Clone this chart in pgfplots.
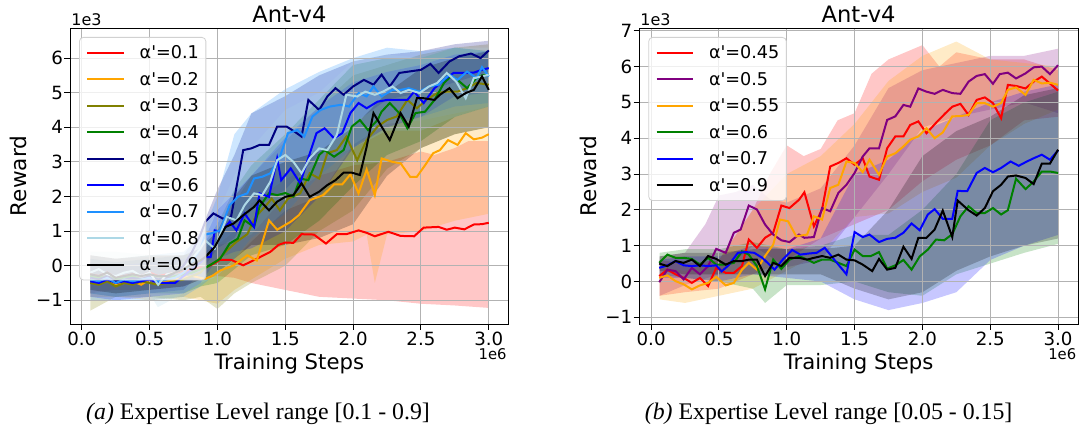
\documentclass[border=0pt]{standalone}
\usepackage{fontspec}
\setmainfont{DejaVu Sans}
\newfontfamily\capfont{Liberation Serif}
\usepackage{pgfplots}
\pgfplotsset{compat=1.18}

\definecolor{cOrange}{HTML}{FFA500}
\definecolor{cOlive}{HTML}{808000}
\definecolor{cGreen}{HTML}{008000}
\definecolor{cNavy}{HTML}{000080}
\definecolor{cBlue}{HTML}{0000FF}
\definecolor{cDodger}{HTML}{1E90FF}
\definecolor{cLight}{HTML}{ADD8E6}
\definecolor{cPurple}{HTML}{800080}

\pgfplotsset{
  antax/.style={
    scale only axis, width=219.35pt, height=148pt,
    xmin=-0.087, xmax=3.147,
    xtick={0,0.5,1,1.5,2,2.5,3},
    xticklabels={0.0,0.5,1.0,1.5,2.0,2.5,3.0},
    tick pos=left, tick align=outside, major tick length=2.85pt,
    grid=major, grid style={black!30, line width=0.45pt},
    axis line style={black, line width=0.5pt},
    tick style={black, line width=0.5pt},
    ticklabel style={font=\fontsize{9.1pt}{10pt}\selectfont},
    xticklabel style={anchor=north, inner sep=0pt},
    yticklabel style={anchor=east, inner sep=0pt},
    xticklabel shift=0.8pt, yticklabel shift=0.5pt,
    set layers,
    legend cell align=left,
    legend image code/.code={\draw[##1] (0pt,0pt) -- (18.35pt,0pt);},
    legend style={at={(0,1)}, anchor=north west, xshift=4.5pt, yshift=-4.35pt,
      draw=black!18, fill=white, fill opacity=0.8, text opacity=1,
      rounded corners=2pt, inner xsep=3.5pt, inner ysep=2pt,
      row sep=1.78pt, column sep=7.3pt,
      font=\fontsize{8.8pt}{10pt}\selectfont,
      nodes={inner sep=0pt, text height=8.8pt, text depth=2.65pt}},
  },
  band/.style={draw=none, fill=#1, fill opacity=0.22, forget plot, on layer=axis background},
  ln/.style={#1, line width=1pt},
}

\begin{document}
\begin{tikzpicture}

% ---------------- (a) ----------------
\begin{axis}[antax, at={(35pt,51.35pt)}, anchor=south west,
  ymin=-1.694, ymax=6.861, ytick={-1,0,1,2,3,4,5,6},
  yticklabels={−1,0,1,2,3,4,5,6}]

% bands: upper edge left to right, lower edge right to left
\addplot[band=red] coordinates {
 (0.0625,0.3)(0.25,0.2)(0.5,0.25)(0.75,0.3)(0.875,0.35)(1.0,0.6)(1.125,0.7)(1.25,0.9)(1.5,2.0)(1.75,2.6)(2.0,2.9)(2.25,3.0)(2.5,3.3)(2.6,3.2)(2.75,3.4)(2.85,3.6)(3.0,3.6)
 (3.0,-1.22)(2.75,-1.15)(2.5,-1.1)(2.25,-1.0)(2.0,-0.95)(1.75,-0.9)(1.5,-0.7)(1.25,-0.5)(1.125,-0.35)(1.0,-0.3)(0.875,-0.4)(0.75,-0.6)(0.5,-0.7)(0.25,-0.7)(0.0625,-0.8)};
\addplot[band=cOrange] coordinates {
 (0.0625,0.1)(0.25,0.0)(0.5,0.0)(0.75,0.1)(0.875,0.2)(1.0,0.6)(1.125,1.0)(1.25,1.8)(1.5,2.5)(1.75,3.0)(2.0,3.4)(2.25,3.9)(2.5,3.9)(2.75,4.3)(3.0,4.6)
 (3.0,1.5)(2.75,1.3)(2.5,1.0)(2.25,0.9)(2.16,-0.5)(2.1,0.9)(2.0,0.7)(1.75,0.6)(1.5,0.2)(1.25,-0.4)(1.125,-0.7)(1.0,-1.1)(0.875,-1.0)(0.75,-0.9)(0.5,-1.0)(0.25,-0.9)(0.0625,-0.9)};
\addplot[band=cOlive] coordinates {
 (0.0625,0.3)(0.25,0.2)(0.5,0.3)(0.75,0.3)(0.875,0.4)(1.0,0.8)(1.125,1.8)(1.25,2.6)(1.5,3.6)(1.75,4.6)(2.0,5.5)(2.25,5.8)(2.5,6.1)(2.75,6.3)(3.0,6.4)
 (3.0,4.0)(2.75,3.8)(2.5,3.4)(2.25,2.8)(2.0,1.6)(1.75,1.0)(1.5,0.0)(1.25,-0.5)(1.125,-0.8)(1.0,-1.25)(0.875,-0.9)(0.75,-1.0)(0.5,-0.9)(0.25,-0.9)(0.0625,-1.3)};
\addplot[band=cGreen] coordinates {
 (0.0625,0.2)(0.25,0.1)(0.5,0.2)(0.75,0.3)(0.875,0.5)(1.0,1.2)(1.125,2.2)(1.25,2.9)(1.5,3.8)(1.75,4.8)(2.0,5.8)(2.25,6.0)(2.5,6.0)(2.75,6.3)(3.0,6.2)
 (3.0,4.6)(2.75,4.3)(2.5,3.6)(2.25,3.2)(2.0,2.3)(1.75,1.3)(1.5,0.6)(1.25,0.3)(1.125,-0.1)(1.0,-0.5)(0.875,-0.6)(0.75,-0.8)(0.5,-0.8)(0.25,-0.9)(0.0625,-0.8)};
\addplot[band=cNavy] coordinates {
 (0.0625,0.2)(0.25,0.1)(0.5,0.2)(0.75,0.3)(0.875,1.0)(1.0,2.2)(1.125,3.2)(1.25,4.4)(1.5,4.9)(1.75,5.5)(2.0,5.9)(2.25,6.1)(2.5,6.2)(2.75,6.4)(3.0,6.5)
 (3.0,5.6)(2.75,5.3)(2.5,5.0)(2.25,4.8)(2.0,4.1)(1.75,3.2)(1.5,2.2)(1.25,1.6)(1.125,0.8)(1.0,0.5)(0.875,-0.2)(0.75,-0.7)(0.5,-0.8)(0.25,-0.9)(0.0625,-0.8)};
\addplot[band=cBlue] coordinates {
 (0.0625,0.1)(0.25,0.0)(0.5,0.1)(0.75,0.2)(0.875,0.5)(1.0,1.6)(1.125,2.1)(1.25,2.6)(1.5,3.7)(1.75,4.6)(2.0,5.3)(2.25,5.6)(2.5,5.8)(2.75,6.1)(3.0,6.2)
 (3.0,5.0)(2.75,4.9)(2.5,4.3)(2.25,4.0)(2.0,3.4)(1.75,2.0)(1.5,1.0)(1.25,0.5)(1.125,0.4)(1.0,0.2)(0.875,-0.5)(0.75,-0.8)(0.5,-0.9)(0.25,-1.0)(0.0625,-0.9)};
\addplot[band=cDodger] coordinates {
 (0.0625,0.3)(0.25,0.2)(0.5,0.3)(0.75,0.4)(0.875,0.8)(1.0,2.0)(1.125,3.8)(1.25,4.4)(1.5,5.1)(1.75,5.6)(2.0,6.0)(2.25,6.3)(2.5,6.2)(2.75,6.3)(3.0,6.2)
 (3.0,4.7)(2.75,4.6)(2.5,4.3)(2.25,4.2)(2.0,3.4)(1.75,2.6)(1.5,1.5)(1.25,0.8)(1.125,0.2)(1.0,-0.2)(0.875,-0.6)(0.75,-0.9)(0.5,-1.0)(0.25,-1.0)(0.0625,-1.0)};
\addplot[band=cLight] coordinates {
 (0.0625,0.4)(0.25,0.4)(0.5,0.3)(0.75,0.4)(0.875,0.9)(1.0,1.5)(1.125,2.6)(1.25,3.4)(1.5,4.5)(1.75,5.0)(2.0,5.9)(2.25,6.1)(2.5,6.0)(2.75,6.3)(3.0,6.3)
 (3.0,4.6)(2.75,4.4)(2.5,4.2)(2.25,4.1)(2.0,3.5)(1.75,2.0)(1.5,1.6)(1.25,0.7)(1.125,0.2)(1.0,-0.3)(0.875,-0.5)(0.75,-0.8)(0.56,-1.2)(0.5,-0.8)(0.25,-0.9)(0.0625,-0.8)};
\addplot[band=black] coordinates {
 (0.0625,0.3)(0.25,0.2)(0.5,0.3)(0.75,0.3)(0.875,0.5)(1.0,1.0)(1.125,2.0)(1.25,2.6)(1.5,3.0)(1.75,3.3)(2.0,4.0)(2.25,5.0)(2.5,5.7)(2.75,6.0)(3.0,6.2)
 (3.0,4.0)(2.75,3.8)(2.5,3.4)(2.25,2.6)(2.0,1.2)(1.75,0.8)(1.5,0.6)(1.25,0.6)(1.125,0.2)(1.0,-0.2)(0.875,-0.4)(0.75,-0.6)(0.5,-0.7)(0.25,-0.8)(0.0625,-0.7)};

% mean curves
\addplot[ln=red] coordinates {
 (0.0625,-0.25)(0.125,-0.3)(0.1875,-0.2)(0.25,-0.35)(0.3125,-0.3)(0.375,-0.25)(0.4375,-0.3)(0.5,-0.2)(0.5625,-0.3)(0.625,-0.25)(0.6875,-0.2)(0.75,-0.15)(0.8125,-0.1)(0.875,-0.05)
 (0.91,-0.06)(0.97,0.05)(1.02,0.17)(1.1,0.17)(1.19,0.01)(1.29,0.2)(1.39,0.4)(1.45,0.6)(1.5,0.67)(1.56,0.66)(1.62,0.91)(1.71,0.9)(1.8,0.64)(1.88,0.91)(1.95,0.91)(2.04,1.02)(2.1,0.95)(2.16,0.85)(2.26,0.98)(2.35,0.86)(2.45,0.85)(2.52,1.1)(2.63,1.12)(2.69,1.04)(2.75,1.1)(2.82,1.05)(2.89,1.19)(2.95,1.2)(3.0,1.24)};
\addlegendentry{α\textquotesingle=0.1}
\addplot[ln=cOrange] coordinates {
 (0.0625,-0.45)(0.125,-0.5)(0.1875,-0.4)(0.25,-0.55)(0.3125,-0.5)(0.375,-0.45)(0.4375,-0.55)(0.5,-0.4)(0.5625,-0.5)(0.625,-0.45)(0.6875,-0.4)(0.75,-0.35)(0.8125,-0.3)(0.875,-0.35)
 (0.91,-0.38)(0.96,-0.3)(1.02,-0.14)(1.12,0.01)(1.22,0.3)(1.29,0.15)(1.38,1.31)(1.44,1.04)(1.54,1.27)(1.6,1.46)(1.68,1.89)(1.78,2.04)(1.86,2.35)(1.92,2.35)(1.98,2.64)(2.04,2.09)(2.1,2.78)(2.16,2.04)(2.21,3.1)(2.29,3.0)(2.35,2.96)(2.42,2.57)(2.47,2.57)(2.53,2.9)(2.59,3.25)(2.64,3.34)(2.7,3.63)(2.77,3.49)(2.83,3.83)(2.89,3.65)(2.95,3.7)(3.0,3.8)};
\addlegendentry{α\textquotesingle=0.2}
\addplot[ln=cOlive] coordinates {
 (0.0625,-0.5)(0.125,-0.55)(0.1875,-0.45)(0.25,-0.6)(0.3125,-0.5)(0.375,-0.55)(0.4375,-0.45)(0.5,-0.5)(0.5625,-0.55)(0.625,-0.5)(0.6875,-0.45)(0.75,-0.4)(0.8125,-0.3)(0.875,-0.2)
 (0.91,-0.06)(1.0,0.15)(1.07,0.44)(1.14,0.69)(1.22,0.91)(1.28,1.41)(1.35,1.7)(1.4,1.94)(1.46,1.6)(1.52,1.94)(1.61,2.09)(1.68,2.67)(1.75,2.52)(1.81,3.25)(1.88,3.34)(1.95,3.73)(2.03,3.05)(2.1,3.63)(2.18,4.02)(2.25,4.21)(2.32,4.31)(2.4,4.79)(2.47,4.55)(2.54,4.79)(2.62,4.99)(2.69,5.03)(2.77,5.03)(2.84,5.13)(2.91,5.28)(3.0,5.23)};
\addlegendentry{α\textquotesingle=0.3}
\addplot[ln=cGreen] coordinates {
 (0.0625,-0.3)(0.125,-0.35)(0.1875,-0.3)(0.25,-0.4)(0.3125,-0.35)(0.375,-0.3)(0.4375,-0.4)(0.5,-0.35)(0.5625,-0.3)(0.625,-0.35)(0.6875,-0.3)(0.75,-0.25)(0.8125,-0.2)(0.875,-0.1)
 (0.91,-0.06)(0.96,0.05)(1.02,0.2)(1.09,0.64)(1.15,0.78)(1.2,1.31)(1.27,1.12)(1.31,1.7)(1.38,2.09)(1.44,2.04)(1.5,2.1)(1.56,2.0)(1.61,2.52)(1.67,2.47)(1.75,3.2)(1.79,3.34)(1.86,3.15)(1.93,3.34)(1.99,4.02)(2.05,4.21)(2.11,3.92)(2.18,4.21)(2.21,4.45)(2.27,4.7)(2.34,4.41)(2.4,3.97)(2.46,4.41)(2.53,4.45)(2.6,4.79)(2.67,5.28)(2.72,5.47)(2.77,5.37)(2.84,5.13)(2.91,5.42)(2.95,5.5)(3.0,5.52)};
\addlegendentry{α\textquotesingle=0.4}
\addplot[ln=cNavy] coordinates {
 (0.0625,-0.35)(0.125,-0.4)(0.1875,-0.3)(0.25,-0.45)(0.3125,-0.4)(0.375,-0.35)(0.4375,-0.4)(0.5,-0.3)(0.5625,-0.4)(0.625,-0.35)(0.6875,-0.2)(0.75,0.0)(0.8125,0.4)(0.875,0.9)
 (0.91,1.27)(0.97,1.51)(1.04,1.36)(1.1,1.41)(1.19,3.34)(1.25,3.39)(1.31,3.49)(1.38,3.49)(1.44,4.02)(1.51,4.02)(1.57,3.87)(1.62,3.73)(1.67,4.79)(1.75,4.5)(1.81,4.89)(1.87,5.13)(1.93,4.94)(2.0,5.18)(2.08,5.37)(2.15,5.23)(2.21,5.52)(2.27,5.18)(2.34,5.57)(2.41,5.61)(2.5,5.66)(2.57,5.83)(2.63,5.57)(2.71,5.9)(2.78,6.05)(2.87,6.13)(2.94,6.0)(3.0,6.22)};
\addlegendentry{α\textquotesingle=0.5}
\addplot[ln=cBlue] coordinates {
 (0.0625,-0.45)(0.125,-0.5)(0.1875,-0.4)(0.25,-0.5)(0.3125,-0.45)(0.375,-0.5)(0.4375,-0.45)(0.5,-0.4)(0.5625,-0.5)(0.625,-0.5)(0.6875,-0.5)(0.75,-0.3)(0.8125,-0.1)(0.875,0.1)
 (0.91,0.25)(0.95,0.25)(0.98,1.02)(1.03,0.98)(1.09,1.27)(1.14,1.02)(1.2,1.51)(1.27,1.12)(1.31,2.09)(1.38,1.99)(1.44,3.1)(1.47,2.47)(1.54,2.81)(1.61,2.38)(1.66,3.0)(1.73,3.83)(1.79,3.97)(1.86,3.68)(1.92,3.83)(1.98,4.41)(2.04,4.7)(2.1,4.55)(2.18,4.74)(2.25,4.79)(2.32,4.79)(2.4,4.79)(2.45,5.03)(2.52,4.7)(2.6,5.13)(2.67,5.37)(2.74,5.57)(2.82,5.57)(2.89,5.58)(2.95,5.66)(3.0,5.71)};
\addlegendentry{α\textquotesingle=0.6}
\addplot[ln=cDodger] coordinates {
 (0.0625,-0.4)(0.125,-0.45)(0.1875,-0.35)(0.25,-0.5)(0.3125,-0.4)(0.375,-0.45)(0.4375,-0.4)(0.5,-0.35)(0.5625,-0.45)(0.625,-0.4)(0.6875,-0.35)(0.75,-0.2)(0.8125,0.1)(0.875,0.5)
 (0.91,0.9)(0.95,0.93)(1.02,1.02)(1.09,1.75)(1.15,1.99)(1.22,2.09)(1.27,2.52)(1.33,2.57)(1.39,2.67)(1.46,3.15)(1.52,3.83)(1.59,3.92)(1.64,3.73)(1.7,4.31)(1.76,4.5)(1.83,4.6)(1.91,4.65)(1.97,4.6)(2.04,4.99)(2.1,4.89)(2.15,5.18)(2.21,4.89)(2.29,5.08)(2.35,5.08)(2.41,5.13)(2.49,5.03)(2.56,5.18)(2.63,5.23)(2.71,5.52)(2.77,5.37)(2.84,5.61)(2.91,5.42)(2.95,5.74)(3.0,5.47)};
\addlegendentry{α\textquotesingle=0.7}
\addplot[ln=cLight] coordinates {
 (0.0625,-0.2)(0.125,-0.1)(0.1875,-0.25)(0.25,-0.3)(0.3125,-0.2)(0.375,-0.15)(0.4375,-0.3)(0.5,-0.2)(0.5625,-0.55)(0.625,-0.25)(0.6875,-0.2)(0.75,-0.1)(0.8125,0.2)(0.875,0.5)
 (0.91,0.73)(0.98,0.49)(1.07,1.41)(1.14,1.31)(1.2,1.75)(1.27,2.09)(1.33,2.04)(1.39,2.43)(1.44,3.05)(1.5,3.2)(1.56,3.0)(1.62,2.67)(1.68,3.1)(1.75,3.39)(1.81,3.34)(1.88,3.78)(1.95,4.94)(2.03,4.89)(2.09,5.03)(2.16,4.94)(2.22,5.03)(2.29,5.18)(2.35,4.99)(2.41,5.08)(2.49,4.99)(2.56,5.18)(2.62,5.28)(2.69,5.57)(2.76,5.32)(2.83,4.84)(2.89,5.42)(2.95,5.47)(3.0,5.52)};
\addlegendentry{α\textquotesingle=0.8}
\addplot[ln=black] coordinates {
 (0.0625,-0.25)(0.125,-0.3)(0.1875,-0.2)(0.25,-0.35)(0.3125,-0.3)(0.375,-0.25)(0.4375,-0.3)(0.5,-0.25)(0.5625,-0.3)(0.625,-0.3)(0.6875,-0.2)(0.75,-0.1)(0.8125,0.05)(0.875,0.15)
 (0.91,0.25)(0.98,0.54)(1.06,1.12)(1.12,1.22)(1.19,1.46)(1.27,1.7)(1.31,1.89)(1.38,1.6)(1.44,1.85)(1.5,1.99)(1.56,2.04)(1.62,2.38)(1.68,1.99)(1.75,2.14)(1.81,2.33)(1.87,2.47)(1.93,2.69)(1.99,2.69)(2.05,2.62)(2.1,3.44)(2.15,4.41)(2.21,4.02)(2.27,3.63)(2.35,4.41)(2.41,4.02)(2.47,4.84)(2.52,4.84)(2.6,4.79)(2.64,4.94)(2.71,5.13)(2.77,4.84)(2.83,4.99)(2.89,5.08)(2.95,5.47)(3.0,5.08)};
\addlegendentry{α\textquotesingle=0.9}
\end{axis}

% ---------------- (b) ----------------
\begin{axis}[antax, at={(319.65pt,51.35pt)}, anchor=south west,
  ymin=-1.196, ymax=7.07, ytick={-1,0,1,2,3,4,5,6,7},
  yticklabels={−1,0,1,2,3,4,5,6,7}]

\addplot[band=red] coordinates {
 (0.0625,0.6)(0.25,0.5)(0.5,0.6)(0.75,2.0)(0.875,3.0)(1.0,3.8)(1.125,3.5)(1.25,3.7)(1.375,4.5)(1.5,4.7)(1.625,5.8)(1.75,6.2)(2.0,6.6)(2.125,6.0)(2.25,6.4)(2.5,6.2)(2.75,6.2)(3.0,5.9)
 (3.0,4.6)(2.75,4.5)(2.5,3.8)(2.25,3.4)(2.0,2.8)(1.75,2.0)(1.5,1.6)(1.25,1.2)(1.0,0.6)(0.75,0.2)(0.5,-0.2)(0.25,-0.3)(0.0625,-0.4)};
\addplot[band=cPurple] coordinates {
 (0.0625,0.7)(0.25,0.8)(0.4,1.6)(0.5,2.4)(0.625,2.5)(0.75,2.7)(0.875,2.3)(1.0,2.2)(1.25,2.6)(1.5,3.8)(1.75,5.4)(2.0,5.9)(2.25,6.1)(2.5,6.3)(2.75,6.3)(3.0,6.5)
 (3.0,4.7)(2.75,5.0)(2.5,4.8)(2.25,4.6)(2.0,4.3)(1.75,3.0)(1.5,1.8)(1.25,0.6)(1.0,0.4)(0.75,1.0)(0.5,0.2)(0.25,-0.1)(0.0625,-0.4)};
\addplot[band=cOrange] coordinates {
 (0.0625,0.4)(0.25,0.3)(0.5,0.6)(0.75,2.0)(1.0,3.0)(1.25,3.5)(1.5,4.4)(1.75,5.6)(2.0,6.3)(2.25,6.7)(2.5,6.2)(2.75,6.1)(3.0,6.0)
 (3.0,4.8)(2.75,4.4)(2.5,3.8)(2.25,2.9)(2.0,2.5)(1.75,1.9)(1.5,1.8)(1.25,0.8)(1.0,0.3)(0.75,-0.2)(0.5,-0.4)(0.25,-0.6)(0.0625,-0.5)};
\addplot[band=cGreen] coordinates {
 (0.0625,0.8)(0.25,0.9)(0.5,0.9)(0.75,1.1)(1.0,0.9)(1.25,1.0)(1.5,1.3)(1.75,1.3)(2.0,2.0)(2.25,3.0)(2.5,4.5)(2.75,5.0)(3.0,5.3)
 (3.0,1.05)(2.75,0.8)(2.5,0.5)(2.25,0.2)(2.0,-0.4)(1.75,-0.3)(1.5,0.0)(1.25,-0.1)(1.0,-0.1)(0.84,-0.6)(0.75,-0.2)(0.5,0.0)(0.25,0.1)(0.0625,0.2)};
\addplot[band=cBlue] coordinates {
 (0.0625,0.6)(0.25,0.7)(0.5,0.7)(0.75,1.0)(1.0,0.9)(1.25,1.2)(1.5,3.0)(1.75,3.4)(2.0,4.2)(2.25,4.6)(2.5,5.0)(2.75,5.3)(3.0,5.5)
 (3.0,1.3)(2.75,1.0)(2.5,0.6)(2.25,-0.3)(2.0,-0.6)(1.75,-0.8)(1.5,-0.5)(1.25,0.0)(1.0,0.1)(0.75,0.2)(0.5,0.0)(0.25,0.1)(0.0625,0.1)};
\addplot[band=black] coordinates {
 (0.0625,0.7)(0.25,0.8)(0.5,0.8)(0.75,0.9)(1.0,0.9)(1.25,0.9)(1.5,1.0)(1.75,2.0)(2.0,3.5)(2.25,4.2)(2.5,4.6)(2.75,5.2)(3.0,5.4)
 (3.0,1.2)(2.75,1.0)(2.5,0.7)(2.25,0.3)(2.0,-0.3)(1.75,-0.5)(1.5,-0.2)(1.25,0.2)(1.0,0.2)(0.75,0.2)(0.5,0.2)(0.25,0.2)(0.0625,0.3)};

\addplot[ln=red] coordinates {
 (0.06,0.15)(0.12,0.33)(0.18,0.2)(0.24,0.1)(0.3,-0.04)(0.36,0.1)(0.42,-0.13)(0.48,0.38)(0.55,0.24)(0.61,0.24)(0.67,0.43)(0.72,1.17)(0.78,0.94)(0.84,1.22)(0.9,1.36)(0.96,2.12)(1.02,2.05)(1.09,2.28)(1.13,2.49)(1.2,1.54)(1.26,2.01)(1.32,3.21)(1.38,3.31)(1.44,3.44)(1.5,3.26)(1.56,3.44)(1.61,2.93)(1.68,2.84)(1.74,3.72)(1.8,4.05)(1.86,4.05)(1.91,4.37)(1.97,4.47)(2.03,4.14)(2.11,4.47)(2.17,4.7)(2.22,4.88)(2.28,4.96)(2.34,4.65)(2.4,5.07)(2.46,5.14)(2.52,4.98)(2.58,4.56)(2.63,5.49)(2.69,5.46)(2.76,5.39)(2.82,5.58)(2.88,5.72)(2.94,5.53)(3.0,5.33)};
\addlegendentry{α\textquotesingle=0.45}
\addplot[ln=cPurple] coordinates {
 (0.06,-0.02)(0.12,0.33)(0.18,0.29)(0.24,0.06)(0.3,0.38)(0.36,0.2)(0.42,0.43)(0.48,0.91)(0.55,0.8)(0.61,1.36)(0.66,1.45)(0.72,2.12)(0.78,2.01)(0.84,1.59)(0.9,1.31)(0.96,1.15)(1.02,1.1)(1.09,1.31)(1.13,1.22)(1.2,1.24)(1.26,2.05)(1.32,1.96)(1.38,2.47)(1.44,2.7)(1.5,3.03)(1.56,3.49)(1.61,3.72)(1.68,3.72)(1.74,4.51)(1.8,4.61)(1.86,4.93)(1.91,4.88)(1.97,5.39)(2.03,5.3)(2.09,5.24)(2.15,5.35)(2.22,5.26)(2.28,5.24)(2.34,5.58)(2.4,5.74)(2.46,5.79)(2.52,5.52)(2.57,5.79)(2.63,5.83)(2.69,5.67)(2.76,5.81)(2.82,5.98)(2.88,6.0)(2.94,5.79)(3.0,6.04)};
\addlegendentry{α\textquotesingle=0.5}
\addplot[ln=cOrange] coordinates {
 (0.06,0.1)(0.12,0.17)(0.18,0.01)(0.24,-0.08)(0.3,-0.22)(0.36,-0.11)(0.42,-0.04)(0.48,0.13)(0.55,-0.11)(0.61,-0.04)(0.67,0.33)(0.72,0.52)(0.78,0.33)(0.84,0.71)(0.9,1.03)(0.95,1.73)(1.01,1.68)(1.07,1.26)(1.15,1.31)(1.2,1.82)(1.26,1.73)(1.32,2.61)(1.38,2.7)(1.44,3.35)(1.5,3.31)(1.56,3.05)(1.61,3.4)(1.68,2.98)(1.74,3.49)(1.8,3.58)(1.86,3.77)(1.91,3.96)(1.97,4.05)(2.03,4.28)(2.09,4.0)(2.15,4.16)(2.22,4.61)(2.28,4.62)(2.34,4.65)(2.4,4.98)(2.46,4.98)(2.52,4.88)(2.58,4.98)(2.63,5.35)(2.69,5.42)(2.76,5.21)(2.82,5.63)(2.88,5.53)(2.94,5.55)(3.0,5.49)};
\addlegendentry{α\textquotesingle=0.55}
\addplot[ln=cGreen] coordinates {
 (0.06,0.52)(0.12,0.75)(0.18,0.66)(0.24,0.66)(0.3,0.63)(0.36,0.47)(0.42,0.66)(0.48,0.47)(0.55,0.47)(0.61,0.52)(0.67,0.84)(0.72,0.75)(0.78,0.43)(0.84,-0.22)(0.9,0.61)(0.96,0.35)(1.02,0.61)(1.09,0.71)(1.15,0.61)(1.2,0.52)(1.26,0.61)(1.32,0.61)(1.38,0.52)(1.44,0.43)(1.5,0.89)(1.56,0.71)(1.62,0.71)(1.68,0.82)(1.74,0.36)(1.8,0.45)(1.86,0.6)(1.92,0.33)(1.98,0.7)(2.04,0.89)(2.1,1.17)(2.16,1.15)(2.22,1.32)(2.28,1.82)(2.34,2.1)(2.4,1.91)(2.46,1.91)(2.52,2.05)(2.58,1.87)(2.63,1.99)(2.69,2.87)(2.76,2.58)(2.82,2.79)(2.88,3.07)(2.94,3.07)(3.0,3.03)};
\addlegendentry{α\textquotesingle=0.6}
\addplot[ln=cBlue] coordinates {
 (0.06,0.38)(0.12,0.45)(0.18,0.57)(0.24,0.45)(0.3,0.43)(0.36,0.45)(0.42,0.43)(0.48,0.45)(0.52,0.28)(0.57,0.45)(0.64,0.8)(0.7,0.82)(0.76,0.8)(0.82,0.66)(0.91,0.33)(0.97,0.61)(1.04,0.88)(1.1,0.75)(1.16,0.78)(1.22,0.8)(1.28,0.94)(1.35,0.61)(1.44,0.2)(1.5,1.38)(1.56,1.24)(1.61,1.31)(1.68,1.1)(1.74,1.19)(1.8,1.22)(1.86,1.36)(1.92,1.62)(1.98,1.43)(2.04,1.87)(2.09,2.02)(2.15,1.75)(2.22,1.75)(2.26,2.53)(2.33,2.52)(2.4,3.03)(2.46,3.17)(2.52,3.05)(2.58,3.17)(2.65,3.35)(2.71,3.23)(2.77,3.35)(2.82,3.44)(2.88,3.54)(2.94,3.4)(3.0,3.66)};
\addlegendentry{α\textquotesingle=0.7}
\addplot[ln=black] coordinates {
 (0.06,0.5)(0.12,0.43)(0.18,0.57)(0.24,0.52)(0.3,0.61)(0.36,0.43)(0.42,0.71)(0.48,0.63)(0.55,0.47)(0.61,0.57)(0.67,0.57)(0.72,0.61)(0.78,0.61)(0.84,0.15)(0.9,0.52)(0.96,0.43)(1.02,0.66)(1.09,0.66)(1.15,0.61)(1.2,0.66)(1.26,0.71)(1.32,0.66)(1.38,0.75)(1.44,0.61)(1.5,0.59)(1.56,0.47)(1.63,0.29)(1.68,0.63)(1.74,0.33)(1.8,0.38)(1.86,0.97)(1.92,0.63)(1.97,1.22)(2.03,1.22)(2.09,1.45)(2.15,1.98)(2.22,1.24)(2.26,2.26)(2.34,1.99)(2.4,1.84)(2.46,2.05)(2.52,2.52)(2.58,2.7)(2.63,2.93)(2.69,2.96)(2.76,2.89)(2.82,2.72)(2.88,3.29)(2.94,3.29)(3.0,3.68)};
\addlegendentry{α\textquotesingle=0.9}
\end{axis}

% titles, labels, offsets and captions
\node[anchor=base, inner sep=0pt, font=\fontsize{11.3pt}{13pt}\selectfont] at (144.7pt,202.15pt) {Ant-v4};
\node[anchor=base, inner sep=0pt, font=\fontsize{11.3pt}{13pt}\selectfont] at (429.3pt,202.15pt) {Ant-v4};
\node[anchor=base west, inner sep=0pt, font=\fontsize{8pt}{9pt}\selectfont] at (35.5pt,200.5pt) {1e3};
\node[anchor=base west, inner sep=0pt, font=\fontsize{8pt}{9pt}\selectfont] at (320pt,200.85pt) {1e3};
\node[anchor=base east, inner sep=0pt, font=\fontsize{7.4pt}{9pt}\selectfont] at (253.5pt,33.6pt) {1e6};
\node[anchor=base east, inner sep=0pt, font=\fontsize{7.4pt}{9pt}\selectfont] at (538.3pt,33.6pt) {1e6};
\node[anchor=base, inner sep=0pt, font=\fontsize{10.6pt}{12pt}\selectfont] at (144.6pt,28.5pt) {Training Steps};
\node[anchor=base, inner sep=0pt, font=\fontsize{10.6pt}{12pt}\selectfont] at (429.3pt,28.5pt) {Training Steps};
\node[anchor=base, inner sep=0pt, rotate=90, font=\fontsize{10.8pt}{12pt}\selectfont] at (13.35pt,125.5pt) {Reward};
\node[anchor=base, inner sep=0pt, rotate=90, font=\fontsize{10.8pt}{12pt}\selectfont] at (298pt,125.5pt) {Reward};
\node[anchor=base, inner sep=0pt, font=\capfont\fontsize{11.9pt}{13pt}\selectfont] at (129pt,3.5pt) {\textit{(a)} Expertise Level range [0.1 - 0.9]};
\node[anchor=base, inner sep=0pt, font=\capfont\fontsize{11.9pt}{13pt}\selectfont] at (414.3pt,3.5pt) {\textit{(b)} Expertise Level range [0.05 - 0.15]};

\pgfresetboundingbox
\path (0pt,0pt) rectangle (540pt,213.5pt);
\end{tikzpicture}
\end{document}
